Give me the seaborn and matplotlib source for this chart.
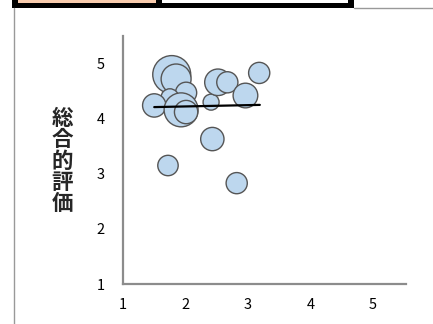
import numpy as np
import pandas as pd
import matplotlib
matplotlib.use("Agg")
import matplotlib.pyplot as plt
from matplotlib.patches import Rectangle
from matplotlib.lines import Line2D
import seaborn as sns

# --- data ---
x_vals = [1.78, 1.85, 2.01, 1.75, 1.50, 1.93, 2.01, 2.41, 2.52, 2.67, 2.96, 3.18, 2.43, 1.72, 2.82]
y_vals = [4.80, 4.72, 4.47, 4.38, 4.24, 4.16, 4.12, 4.30, 4.66, 4.66, 4.42, 4.83, 3.63, 3.15, 2.83]
counts = [45, 28, 14, 10, 17, 36, 17, 8, 22, 14, 19, 14, 17, 13, 14]
trend_x = [1.50, 3.19]
trend_y = [4.21, 4.25]
ticks = [1, 2, 3, 4, 5]
ylabel = "総合的評価"

df = pd.DataFrame({"x": x_vals, "y": y_vals, "n": counts})

sns.set_style("white")
plt.rcParams["font.family"] = ["Noto Sans CJK JP", "DejaVu Sans"]

W, H = 433, 324
fig = plt.figure(figsize=(W / 100, H / 100), dpi=100)


def fx(px):
    return px / W


def fy(py):
    return 1 - py / H


ax = fig.add_axes([fx(123), fy(284), fx(406) - fx(123), fy(36) - fy(284)])

# area scale: count * 16.6 pt^2
k = 16.6
sns.scatterplot(data=df, x="x", y="y", size="n",
                sizes=(min(counts) * k, max(counts) * k),
                size_norm=(min(counts), max(counts)),
                color="#BDD7EE", edgecolor="#555555", linewidth=1.0,
                alpha=1.0, legend=False, ax=ax, zorder=3)
ax.plot(trend_x, trend_y, color="black", lw=1.6, zorder=4)

ax.set_xlim(1, 5.53)
ax.set_ylim(1, 5.5)
ax.set_xticks(ticks)
ax.set_yticks(ticks)
ax.set_xticklabels([str(t) for t in ticks], fontsize=10.5)
ax.set_yticklabels([str(t) for t in ticks], fontsize=10.5)
ax.tick_params(axis="both", length=0, labelcolor="black")
ax.tick_params(axis="x", pad=10)
ax.tick_params(axis="y", pad=13)
ax.set_xlabel("")
ax.set_ylabel("")
for s in ["top", "right"]:
    ax.spines[s].set_visible(False)
for s in ["left", "bottom"]:
    ax.spines[s].set_color("#8c8c8c")
    ax.spines[s].set_linewidth(1.6)

fig.text(fx(62), fy(161), "\n".join(ylabel), fontsize=15.5, fontweight="bold",
         ha="center", va="center", linespacing=1.02)

# cropped table / frame bits around the chart
fig.add_artist(Rectangle((fx(12), fy(8)), fx(354) - fx(12), fy(0) - fy(8),
                         transform=fig.transFigure, facecolor="black", edgecolor="none"))
fig.add_artist(Rectangle((fx(18), fy(3)), fx(156) - fx(18), fy(0) - fy(3),
                         transform=fig.transFigure, facecolor="#F8CBAD", edgecolor="none"))
fig.add_artist(Rectangle((fx(162), fy(3)), fx(348) - fx(162), fy(0) - fy(3),
                         transform=fig.transFigure, facecolor="white", edgecolor="none"))
fig.add_artist(Line2D([fx(354), fx(433)], [fy(7.5), fy(7.5)], transform=fig.transFigure,
                      color="#999999", lw=1.0))
fig.add_artist(Line2D([fx(13.5), fx(13.5)], [fy(8), fy(324)], transform=fig.transFigure,
                      color="#999999", lw=1.0))

fig.savefig("out.png", dpi=100)
